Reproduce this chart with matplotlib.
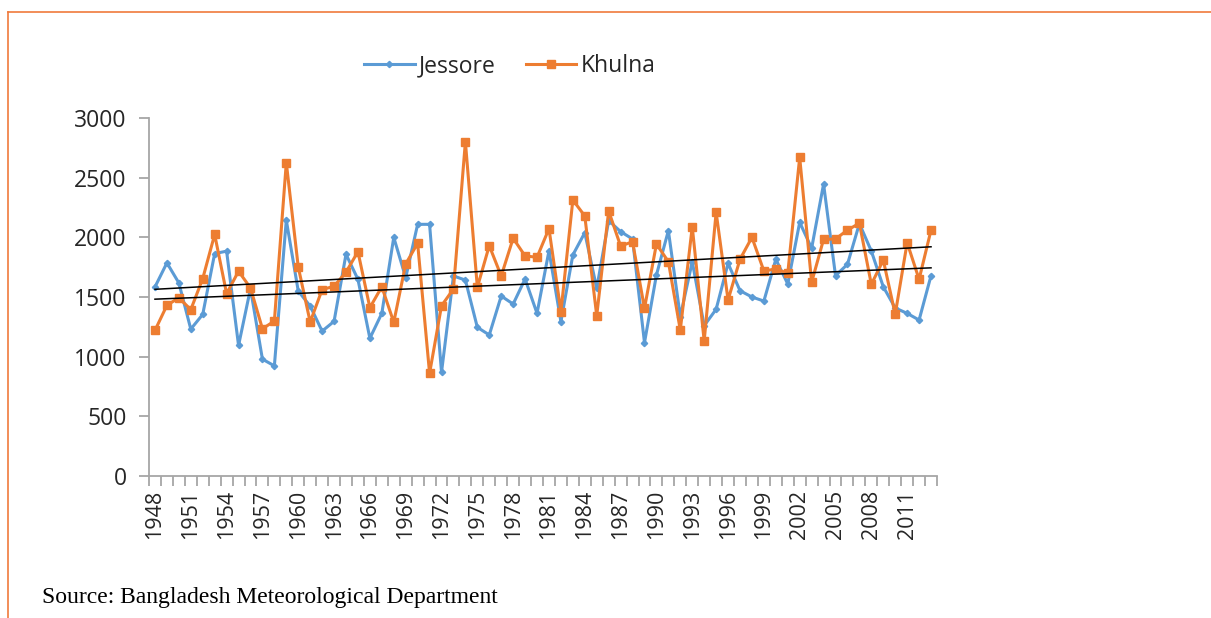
import numpy as np
import matplotlib.pyplot as plt
from matplotlib.lines import Line2D

# annual rainfall (mm), 1948 - 2013
years = list(range(1948, 2014))

jessore = [1584, 1786, 1618, 1231, 1354, 1864, 1884, 1094, 1570, 979,
           923, 2144, 1550, 1424, 1214, 1296, 1858, 1648, 1154, 1363,
           2000, 1662, 2109, 2109, 869, 1676, 1642, 1246, 1182, 1508,
           1441, 1651, 1363, 1887, 1293, 1852, 2039, 1573, 2140, 2048,
           1986, 1117, 1684, 2056, 1335, 1796, 1260, 1397, 1782, 1553,
           1500, 1466, 1816, 1609, 2126, 1908, 2447, 1679, 1774, 2115,
           1885, 1586, 1408, 1363, 1307, 1679]

khulna = [1220, 1430, 1494, 1394, 1654, 2024, 1528, 1716, 1576, 1234,
          1298, 2626, 1752, 1290, 1562, 1590, 1708, 1880, 1411, 1586,
          1288, 1777, 1950, 860, 1427, 1567, 2801, 1581, 1930, 1676,
          1992, 1844, 1833, 2073, 1377, 2313, 2179, 1343, 2221, 1927,
          1963, 1405, 1944, 1796, 1223, 2089, 1131, 2210, 1475, 1816,
          2000, 1718, 1735, 1699, 2670, 1623, 1983, 1986, 2061, 2118,
          1606, 1810, 1355, 1955, 1648, 2061]

yticks = [0, 500, 1000, 1500, 2000, 2500, 3000]

blue = '#5B9BD5'
orange = '#ED7D31'
axis_grey = '#A6A6A6'


def main():
    fig = plt.figure(figsize=(12.11, 6.18), dpi=100)
    ax = fig.add_axes([149/1211, 1 - 476/618, (937-149)/1211, (476-118)/618])

    x = np.arange(len(years))
    ax.plot(x, jessore, color=blue, lw=2.2, marker='D', ms=3.2,
            mec=blue, mfc=blue, label='Jessore')
    ax.plot(x, khulna, color=orange, lw=2.2, marker='s', ms=5.2,
            mec=orange, mfc=orange, label='Khulna')

    # linear trend lines
    for s in (jessore, khulna):
        m, c = np.polyfit(x, s, 1)
        ax.plot(x, m*x + c, color='black', lw=1.1, zorder=3)

    ax.set_xlim(-0.5, len(years) - 0.5)
    ax.set_ylim(0, 3000)

    for side in ('top', 'right'):
        ax.spines[side].set_visible(False)
    for side in ('left', 'bottom'):
        ax.spines[side].set_color(axis_grey)
        ax.spines[side].set_linewidth(1.3)

    ax.set_yticks(yticks)
    ax.set_yticklabels([str(v) for v in yticks], fontsize=16.5,
                       family='Open Sans', color='#262626')
    ax.tick_params(axis='y', length=7, width=1.3, color=axis_grey, pad=9)

    lab_idx = x[::3]
    ax.set_xticks(lab_idx)
    ax.set_xticklabels([str(years[i]) for i in lab_idx], rotation=90,
                       fontsize=15.5, family='Open Sans', color='#262626')
    ax.tick_params(axis='x', which='major', length=0, pad=10)
    ax.set_xticks(np.arange(-0.5, len(years)), minor=True)
    ax.tick_params(axis='x', which='minor', length=7, width=1.3,
                   color=axis_grey)

    leg = fig.legend(loc='center', bbox_to_anchor=(510/1211, 1 - 66/618),
                     ncol=2, frameon=False, handlelength=2.2,
                     columnspacing=1.3, handletextpad=0.2,
                     prop={'family': 'Open Sans', 'size': 16.5})
    for t in leg.get_texts():
        t.set_color('#262626')

    fig.text(42/1211, 1 - 598/618, 'Source: Bangladesh Meteorological Department',
             family='Liberation Serif', fontsize=17, va='center', ha='left')

    # document frame
    fc = '#F07A3C'
    fig.add_artist(Line2D([8/1211, 1], [1 - 12/618, 1 - 12/618], color=fc, lw=1.2))
    fig.add_artist(Line2D([8/1211, 8/1211], [0, 1 - 12/618], color=fc, lw=1.2))

    fig.savefig('out.png', dpi=100)


main()
